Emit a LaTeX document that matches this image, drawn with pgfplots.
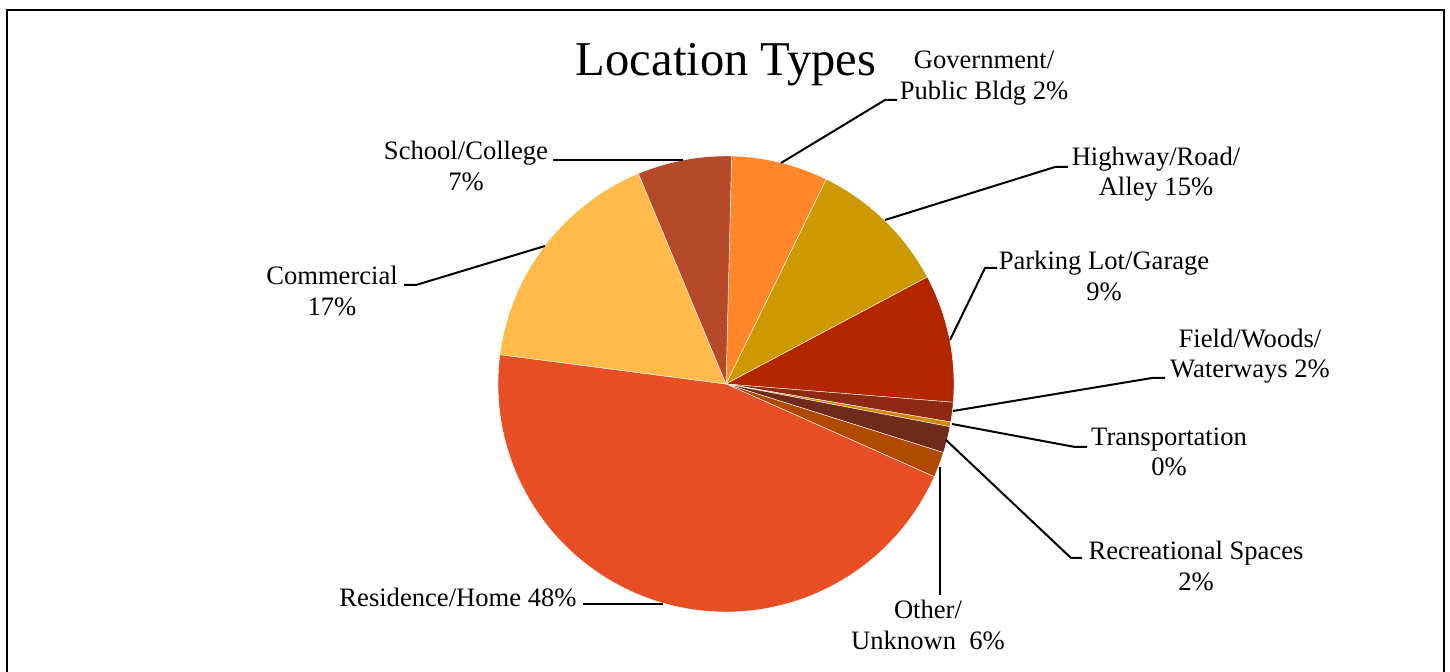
\documentclass[border=0pt]{standalone}
\usepackage{pgfplots}
\pgfplotsset{compat=1.18}
\usepackage{fontspec}
\setmainfont{Liberation Serif}
\definecolor{cschool}{HTML}{B5492A}
\definecolor{cgov}{HTML}{FF8629}
\definecolor{chigh}{HTML}{CC9900}
\definecolor{cpark}{HTML}{B22600}
\definecolor{cfield}{HTML}{8F2A12}
\definecolor{ctrans}{HTML}{D48806}
\definecolor{crec}{HTML}{6E2A1A}
\definecolor{cother}{HTML}{B04A00}
\definecolor{cres}{HTML}{E84E24}
\definecolor{ccom}{HTML}{FFBA4A}
\begin{document}
\begin{tikzpicture}
\begin{axis}[anchor=south west, at={(0,0)}, width=725pt, height=336pt, scale only axis,
  xmin=0, xmax=1450, ymin=0, ymax=672, y dir=reverse, axis lines=none, clip=false,
  every axis plot/.append style={draw=white, line width=0.2pt, no marks}]
% slices: clockwise angles (degrees from 12 o'clock)
\addplot[fill=cgov,   domain=1.4:26.1,    samples=30] ({726+228*sin(x)},{384-228*cos(x)}) -- (axis cs:726,384) -- cycle;
\addplot[fill=chigh,  domain=26.1:62.0,   samples=40] ({726+228*sin(x)},{384-228*cos(x)}) -- (axis cs:726,384) -- cycle;
\addplot[fill=cpark,  domain=62.0:94.6,   samples=40] ({726+228*sin(x)},{384-228*cos(x)}) -- (axis cs:726,384) -- cycle;
\addplot[fill=cfield, domain=94.6:99.6,   samples=8]  ({726+228*sin(x)},{384-228*cos(x)}) -- (axis cs:726,384) -- cycle;
\addplot[fill=ctrans, domain=99.6:100.8,  samples=4]  ({726+228*sin(x)},{384-228*cos(x)}) -- (axis cs:726,384) -- cycle;
\addplot[fill=crec,   domain=100.8:107.5, samples=8]  ({726+228*sin(x)},{384-228*cos(x)}) -- (axis cs:726,384) -- cycle;
\addplot[fill=cother, domain=107.5:114.0, samples=8]  ({726+228*sin(x)},{384-228*cos(x)}) -- (axis cs:726,384) -- cycle;
\addplot[fill=cres,   domain=114.0:277.4, samples=120] ({726+228*sin(x)},{384-228*cos(x)}) -- (axis cs:726,384) -- cycle;
\addplot[fill=ccom,   domain=277.4:337.4, samples=50] ({726+228*sin(x)},{384-228*cos(x)}) -- (axis cs:726,384) -- cycle;
\addplot[fill=cschool,domain=337.4:361.4, samples=30] ({726+228*sin(x)},{384-228*cos(x)}) -- (axis cs:726,384) -- cycle;
% leader lines
\draw[black, line width=1pt] (axis cs:781,163) -- (axis cs:885,100) -- (axis cs:897,100);
\draw[black, line width=1pt] (axis cs:885,220) -- (axis cs:1055,167) -- (axis cs:1068,167);
\draw[black, line width=1pt] (axis cs:950,340) -- (axis cs:985,268) -- (axis cs:997,268);
\draw[black, line width=1pt] (axis cs:953,411) -- (axis cs:1152,378) -- (axis cs:1165,378);
\draw[black, line width=1pt] (axis cs:952,424) -- (axis cs:1075,447) -- (axis cs:1087,447);
\draw[black, line width=1pt] (axis cs:946,440) -- (axis cs:1071,558) -- (axis cs:1082,558);
\draw[black, line width=1.3pt] (axis cs:940,467) -- (axis cs:940,595);
\draw[black, line width=1pt] (axis cs:663,604) -- (axis cs:583,604);
\draw[black, line width=1pt] (axis cs:545,246) -- (axis cs:416,285) -- (axis cs:404,285);
\draw[black, line width=1pt] (axis cs:683,160) -- (axis cs:553,160);
% labels
\begin{scope}[every node/.style={align=center, font=\fontsize{13.3}{15.2}\selectfont, inner sep=0pt}]
\node at (axis cs:984,78) {Government/\\Public Bldg 2\%};
\node at (axis cs:1156,174) {Highway/Road/\\Alley 15\%};
\node at (axis cs:1104,276) {Parking Lot/Garage\\9\%};
\node at (axis cs:1250,356) {Field/Woods/\\Waterways 2\%};
\node at (axis cs:1169,452) {Transportation\\0\%};
\node at (axis cs:1196,566) {Recreational Spaces\\2\%};
\node at (axis cs:928,625) {Other/\\Unknown\ \ 6\%};
\node at (axis cs:458,597) {Residence/Home 48\%};
\node at (axis cs:332,291) {Commercial\\17\%};
\node at (axis cs:466,166) {School/College\\7\%};
\end{scope}
\node[font=\fontsize{24.3}{29}\selectfont, inner sep=0pt] at (axis cs:726,65) {Location Types};
% frame
\draw[black, line width=1pt] (axis cs:7,680) -- (axis cs:7,10) -- (axis cs:1444,10) -- (axis cs:1444,680);
\end{axis}
\pgfresetboundingbox
\path[use as bounding box] (0,0) rectangle (725pt,336pt);
\end{tikzpicture}
\end{document}
